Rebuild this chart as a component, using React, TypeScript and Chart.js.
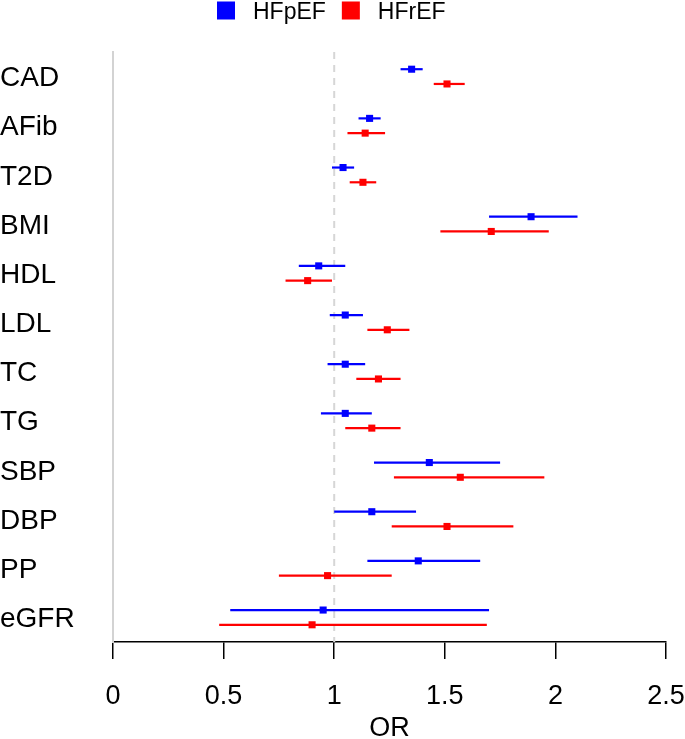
import React, { useEffect, useRef } from "react";
import { Chart, registerables } from "chart.js";

Chart.register(...registerables);

const categories = ["CAD", "AFib", "T2D", "BMI", "HDL", "LDL", "TC", "TG", "SBP", "DBP", "PP", "eGFR"];
const seriesNames = ["HFpEF", "HFrEF"];
const hfpefOR = [1.35, 1.16, 1.04, 1.89, 0.93, 1.05, 1.05, 1.05, 1.43, 1.17, 1.38, 0.95];
const hfpefLo = [1.30, 1.11, 0.99, 1.70, 0.84, 0.98, 0.97, 0.94, 1.18, 1.00, 1.15, 0.53];
const hfpefHi = [1.40, 1.21, 1.09, 2.10, 1.05, 1.13, 1.14, 1.17, 1.75, 1.37, 1.66, 1.70];
const hfrefOR = [1.51, 1.14, 1.13, 1.71, 0.88, 1.24, 1.20, 1.17, 1.57, 1.51, 0.97, 0.90];
const hfrefLo = [1.45, 1.06, 1.07, 1.48, 0.78, 1.15, 1.10, 1.05, 1.27, 1.26, 0.75, 0.48];
const hfrefHi = [1.59, 1.23, 1.19, 1.97, 0.99, 1.34, 1.30, 1.30, 1.95, 1.81, 1.26, 1.69];
const xTicks = [0, 0.5, 1, 1.5, 2, 2.5];
const refLine = 1;

const FONT = "'Liberation Sans', Arial, Helvetica, sans-serif";
const BLUE = "#0000ff";
const RED = "#ff0000";
const ROW_OFFSET = 0.15;

const ciPlugin = {
  id: "ciLines",
  beforeDatasetsDraw(chart: any) {
    const { ctx, chartArea, scales } = chart;
    const xs = scales.x;
    const ys = scales.y;
    ctx.save();
    const rx = xs.getPixelForValue(refLine);
    ctx.strokeStyle = "#d6d6d6";
    ctx.lineWidth = 2;
    ctx.setLineDash([7, 6]);
    ctx.beginPath();
    ctx.moveTo(rx, chartArea.top);
    ctx.lineTo(rx, chartArea.bottom);
    ctx.stroke();
    ctx.setLineDash([]);
    chart.data.datasets.forEach((ds: any) => {
      ctx.strokeStyle = ds.backgroundColor;
      ctx.lineWidth = 2.2;
      ds.data.forEach((p: any) => {
        const y = ys.getPixelForValue(p.y);
        ctx.beginPath();
        ctx.moveTo(xs.getPixelForValue(p.lo), y);
        ctx.lineTo(xs.getPixelForValue(p.hi), y);
        ctx.stroke();
      });
    });
    ctx.restore();
  },
};

const legendPlugin = {
  id: "topLegend",
  afterDraw(chart: any) {
    const { ctx } = chart;
    ctx.save();
    ctx.font = `23px ${FONT}`;
    ctx.textBaseline = "alphabetic";
    ctx.textAlign = "left";
    let x = 217;
    chart.data.datasets.forEach((ds: any) => {
      ctx.fillStyle = ds.backgroundColor;
      ctx.fillRect(x, 1.5, 18, 18);
      x += 36;
      ctx.fillStyle = "#000";
      ctx.fillText(ds.label, x, 18.5);
      x += ctx.measureText(ds.label).width + 16;
    });
    ctx.restore();
  },
};

export default function App() {
  const ref = useRef<HTMLCanvasElement | null>(null);

  useEffect(() => {
    if (!ref.current) return;
    const mk = (or: number[], lo: number[], hi: number[], off: number) =>
      categories.map((_, i) => ({ x: or[i], y: i + off, lo: lo[i], hi: hi[i] }));
    const chart = new Chart(ref.current, {
      type: "scatter",
      data: {
        datasets: [
          {
            label: seriesNames[0],
            data: mk(hfpefOR, hfpefLo, hfpefHi, -ROW_OFFSET),
            backgroundColor: BLUE,
            borderColor: BLUE,
            pointStyle: "rect",
            pointRadius: 5,
            pointBorderWidth: 0,
          },
          {
            label: seriesNames[1],
            data: mk(hfrefOR, hfrefLo, hfrefHi, ROW_OFFSET),
            backgroundColor: RED,
            borderColor: RED,
            pointStyle: "rect",
            pointRadius: 5,
            pointBorderWidth: 0,
          },
        ],
      },
      options: {
        animation: false,
        responsive: false,
        layout: { padding: { top: 52, right: 19, left: 0, bottom: 0 } },
        plugins: {
          legend: { display: false },
          tooltip: { enabled: false },
        },
        scales: {
          x: {
            type: "linear",
            min: 0,
            max: 2.5,
            afterBuildTicks: (s: any) => {
              s.ticks = xTicks.map((v) => ({ value: v }));
            },
            afterFit: (s: any) => {
              s.height = 97;
              s.paddingLeft = 0;
              s.paddingRight = 0;
            },
            ticks: {
              color: "#000",
              font: { family: FONT, size: 27 },
              padding: 21,
              maxRotation: 0,
              autoSkip: false,
              callback: (v: any) => String(v),
            },
            grid: {
              drawOnChartArea: false,
              drawTicks: true,
              tickLength: 17,
              color: "#000",
              lineWidth: 1.5,
            },
            border: { display: true, color: "#000", width: 1.5 },
            title: {
              display: true,
              text: "OR",
              color: "#000",
              font: { family: FONT, size: 27, lineHeight: 0.75 },
              padding: 0,
            },
          },
          y: {
            type: "linear",
            reverse: true,
            min: -0.5,
            max: 11.5,
            afterBuildTicks: (s: any) => {
              s.ticks = categories.map((_, i) => ({ value: i }));
            },
            afterFit: (s: any) => {
              s.width = 113;
              s.paddingTop = 0;
              s.paddingBottom = 0;
            },
            ticks: {
              color: "#000",
              font: { family: FONT, size: 28 },
              crossAlign: "far",
              padding: 0,
              labelOffset: 2,
              autoSkip: false,
              callback: (v: any) => categories[v] ?? "",
            },
            grid: { drawOnChartArea: false, drawTicks: false },
            border: { display: true, color: "#d3d3d3", width: 2 },
          },
        },
      },
      plugins: [ciPlugin, legendPlugin],
    } as any);
    return () => chart.destroy();
  }, []);

  return (
    <div style={{ position: "absolute", left: 0, top: 0, width: 685, height: 739, background: "#fff" }}>
      <canvas ref={ref} width={685} height={739} style={{ width: 685, height: 739 }} />
    </div>
  );
}
